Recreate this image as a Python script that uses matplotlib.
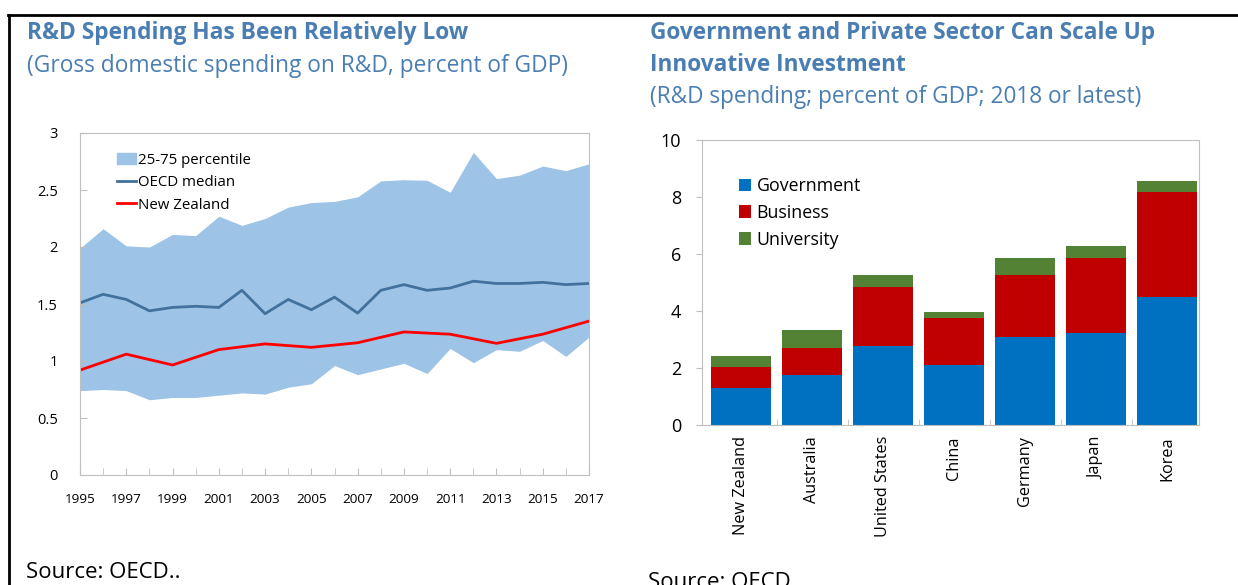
import matplotlib
matplotlib.use("Agg")
import matplotlib.pyplot as plt
from matplotlib.lines import Line2D
from matplotlib.patches import Patch
import numpy as np

plt.rcParams['font.family'] = ['Open Sans', 'DejaVu Sans']

# left panel data
years = list(range(1995, 2018))
p75 = [1.99, 2.16, 2.01, 2.00, 2.11, 2.10, 2.27, 2.19, 2.25, 2.35, 2.39, 2.40,
       2.44, 2.58, 2.59, 2.585, 2.48, 2.83, 2.60, 2.63, 2.71, 2.67, 2.73]
p25 = [0.74, 0.75, 0.74, 0.66, 0.68, 0.68, 0.70, 0.72, 0.71, 0.77, 0.80, 0.96,
       0.88, 0.93, 0.98, 0.89, 1.11, 0.985, 1.10, 1.085, 1.18, 1.04, 1.21]
median = [1.51, 1.585, 1.54, 1.44, 1.47, 1.48, 1.47, 1.62, 1.415, 1.54, 1.45, 1.56,
          1.42, 1.62, 1.67, 1.62, 1.64, 1.70, 1.68, 1.68, 1.69, 1.67, 1.68]
nz_years = [1995, 1997, 1999, 2001, 2003, 2005, 2007, 2009, 2011, 2013, 2015, 2017]
nz = [0.92, 1.06, 0.965, 1.10, 1.15, 1.12, 1.16, 1.255, 1.235, 1.155, 1.235, 1.35]

# right panel data
countries = ['New Zealand', 'Australia', 'United States', 'China', 'Germany', 'Japan', 'Korea']
government = [1.31, 1.74, 2.78, 2.09, 3.09, 3.24, 4.49]
business = [0.72, 0.96, 2.07, 1.68, 2.17, 2.63, 3.67]
university = [0.38, 0.64, 0.40, 0.19, 0.60, 0.40, 0.40]

title_col = '#4a7eb3'
spine_col = '#bfbfbf'

fig = plt.figure(figsize=(12.38, 5.85), dpi=100)

# frame lines of the page
fig.add_artist(Line2D([8/1238, 1], [1-15/585, 1-15/585], color='black', lw=2, transform=fig.transFigure))
fig.add_artist(Line2D([9/1238, 9/1238], [0, 1-15/585], color='black', lw=2, transform=fig.transFigure))

# ---- left chart
fig.text(27/1238, 1-33/585, 'R&D Spending Has Been Relatively Low', fontsize=16.4, fontweight='bold',
         color=title_col, va='center', ha='left')
fig.text(27/1238, 1-66/585, '(Gross domestic spending on R&D, percent of GDP)', fontsize=16.4,
         color=title_col, va='center', ha='left')

ax = fig.add_axes([80/1238, 110/585, 509/1238, 342/585])
ax.fill_between(years, p25, p75, color='#9dc3e6', lw=0)
ax.plot(years, median, color='#41719c', lw=2)
ax.plot(nz_years, nz, color='#ff0000', lw=2)
ax.set_xlim(1995, 2017)
ax.set_ylim(0, 3)
ax.set_xticks(range(1995, 2018, 2))
ax.set_xticks(years, minor=True)
ax.set_yticks([0, 0.5, 1, 1.5, 2, 2.5, 3])
ax.set_yticklabels(['0', '0.5', '1', '1.5', '2', '2.5', '3'])
ax.tick_params(axis='x', which='both', direction='in', length=5, color=spine_col, labelsize=9.7, pad=13)
ax.tick_params(axis='y', direction='in', length=5, color=spine_col, labelsize=10.5, pad=16)
for s in ax.spines.values():
    s.set_color(spine_col)
handles = [Patch(color='#9dc3e6'), Line2D([], [], color='#41719c', lw=2), Line2D([], [], color='#ff0000', lw=2)]
ax.legend(handles, ['25-75 percentile', 'OECD median', 'New Zealand'], loc='upper left',
          bbox_to_anchor=(0.06, 0.96), frameon=False, fontsize=10.8, handlelength=1.3,
          handletextpad=0.1, labelspacing=0.5, borderaxespad=0)

fig.text(26/1238, 1-572/585, 'Source: OECD..', fontsize=16, va='center', ha='left')

# ---- right chart
fig.text(650/1238, 1-33/585, 'Government and Private Sector Can Scale Up', fontsize=16.3,
         fontweight='bold', color=title_col, va='center', ha='left')
fig.text(650/1238, 1-65/585, 'Innovative Investment', fontsize=16.3,
         fontweight='bold', color=title_col, va='center', ha='left')
fig.text(650/1238, 1-97/585, '(R&D spending; percent of GDP; 2018 or latest)', fontsize=16.3,
         color=title_col, va='center', ha='left')

ax2 = fig.add_axes([702/1238, 160/585, 497/1238, 285/585])
x = np.arange(len(countries))
gb = np.array(government) + np.array(business)
ax2.bar(x, government, width=0.845, color='#0070c0', label='Government')
ax2.bar(x, business, width=0.845, bottom=government, color='#c00000', label='Business')
ax2.bar(x, university, width=0.845, bottom=gb, color='#548235', label='University')
ax2.set_xlim(-0.55, 6.45)
ax2.set_ylim(0, 10)
ax2.set_yticks([0, 2, 4, 6, 8, 10])
ax2.set_xticks(x)
ax2.set_xticklabels(countries, rotation=90, fontsize=11.7)
ax2.set_xticks(np.arange(0.5, 6, 1), minor=True)
ax2.tick_params(axis='x', which='major', length=0, pad=8)
ax2.tick_params(axis='x', which='minor', direction='in', length=4, color=spine_col)
ax2.tick_params(axis='y', direction='out', length=4, color=spine_col, labelsize=13, pad=11)
for s in ax2.spines.values():
    s.set_color(spine_col)
ax2.legend(loc='upper left', bbox_to_anchor=(0.06, 0.895), frameon=False, fontsize=12.8,
           handlelength=0.7, handleheight=0.7, handletextpad=0.3, labelspacing=0.5,
           borderaxespad=0)

fig.text(648/1238, 1-582/585, 'Source: OECD..', fontsize=16, va='center', ha='left')

fig.savefig('out.png', dpi=100)
